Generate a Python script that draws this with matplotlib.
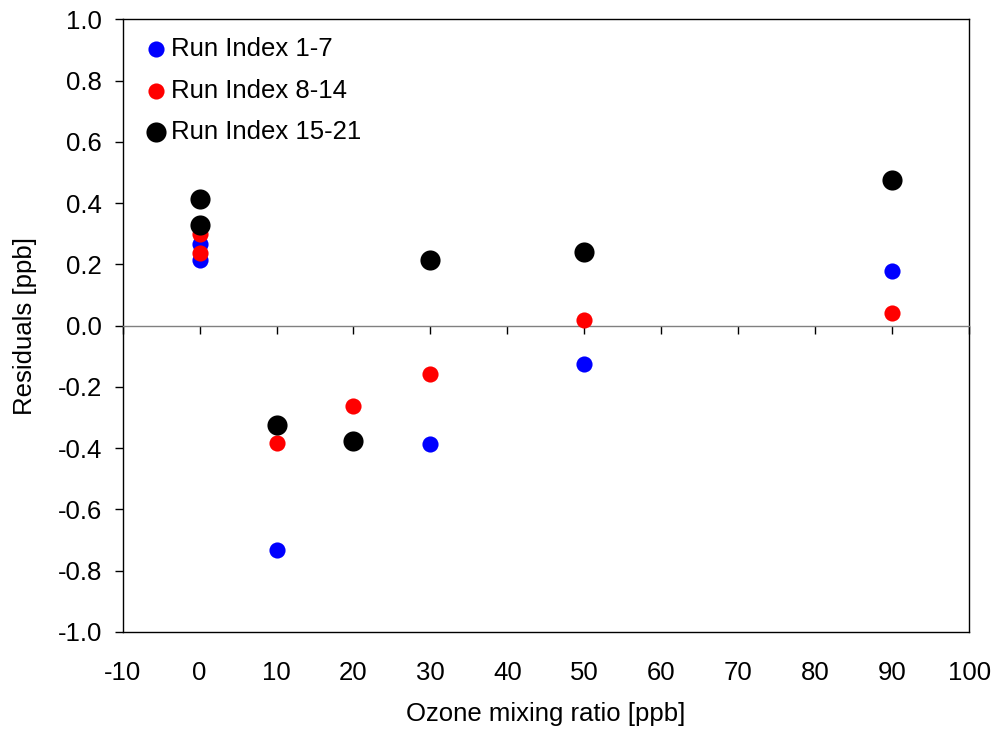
import matplotlib
matplotlib.use("Agg")
import matplotlib.pyplot as plt

plt.rcParams['font.family'] = ['Liberation Sans', 'DejaVu Sans']
plt.rcParams['axes.unicode_minus'] = False

# ozone mixing ratio [ppb] and residuals [ppb] per group of runs
x_runs_1_7 = [0, 0, 10, 20, 30, 50, 90]
res_runs_1_7 = [0.265, 0.213, -0.733, -0.375, -0.387, -0.126, 0.178]

x_runs_8_14 = [0, 0, 10, 20, 30, 50, 90]
res_runs_8_14 = [0.30, 0.236, -0.383, -0.263, -0.158, 0.018, 0.041]

x_runs_15_21 = [0, 0, 10, 20, 30, 50, 90]
res_runs_15_21 = [0.413, 0.33, -0.325, -0.377, 0.214, 0.24, 0.475]

x_ticks = [-10, 0, 10, 20, 30, 40, 50, 60, 70, 80, 90, 100]
y_ticks = [-1.0, -0.8, -0.6, -0.4, -0.2, 0.0, 0.2, 0.4, 0.6, 0.8, 1.0]

fs = 18.5

fig = plt.figure(figsize=(9.97, 7.4), dpi=100)
ax = fig.add_axes([0.123, 0.146, 0.849, 0.828])

ax.scatter(x_runs_1_7, res_runs_1_7, s=135, color='#0000ff', label='Run Index 1-7', zorder=3, linewidths=0)
ax.scatter(x_runs_8_14, res_runs_8_14, s=135, color='#ff0000', label='Run Index 8-14', zorder=4, linewidths=0)
ax.scatter(x_runs_15_21, res_runs_15_21, s=210, color='black', label='Run Index 15-21', zorder=5, linewidths=0)

ax.set_xlim(-10, 100)
ax.set_ylim(-1, 1)
ax.set_yticks(y_ticks)
ax.set_yticklabels([f'{v:.1f}' for v in y_ticks])
ax.set_xticks(x_ticks)

for sp in ax.spines.values():
    sp.set_linewidth(1.0)
    sp.set_color('black')

# x axis crosses at zero (grey line), labels sit at the bottom of the frame
ax.spines['bottom'].set_position(('data', 0))
ax.spines['bottom'].set_color('#808080')
ax.tick_params(axis='x', direction='out', length=6, width=1, color='black', labelbottom=False)
ax.tick_params(axis='y', direction='out', length=6, width=1, labelsize=fs, pad=9)

sec = ax.secondary_xaxis(0.0)
sec.set_xticks(x_ticks)
sec.tick_params(length=0, labelsize=fs, pad=21)
sec.spines['bottom'].set_linewidth(1.0)
sec.set_xlabel('Ozone mixing ratio [ppb]', fontsize=fs, labelpad=12)

ax.set_ylabel('Residuals [ppb]', fontsize=fs, labelpad=15)

ax.legend(loc='upper left', frameon=False, fontsize=fs, handletextpad=0.0,
          labelspacing=0.68, borderaxespad=0.3, handlelength=1.2)

plt.savefig('out.png', dpi=100)
